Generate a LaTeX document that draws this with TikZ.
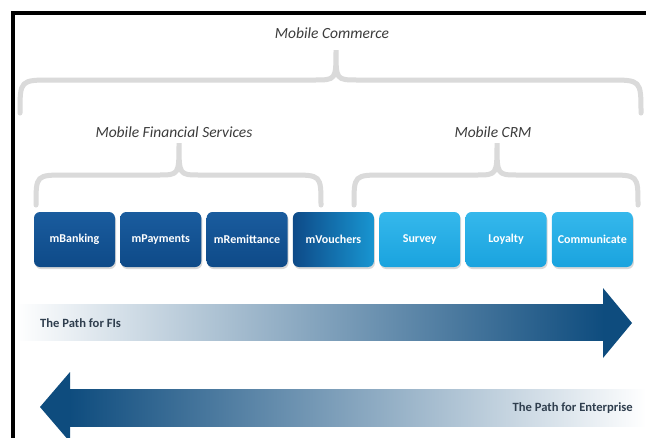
\documentclass[tikz,border=0pt]{standalone}
\usepackage{fontspec}
\setmainfont{Carlito}
\usetikzlibrary{shadows}
\definecolor{darkbox}{HTML}{0E4A88}
\definecolor{darkboxtop}{HTML}{1A5C9E}
\definecolor{lightbox}{HTML}{1AA3DE}
\definecolor{lightboxtop}{HTML}{35B8EC}
\definecolor{arrowdark}{HTML}{0E4C7E}
\definecolor{arrowmid}{HTML}{A3BBCF}
\definecolor{bracegray}{HTML}{DADADA}
\definecolor{labelgray}{HTML}{3C3C3C}
\definecolor{pathtext}{HTML}{2F3E4E}
\tikzset{
  box/.style={rounded corners=6pt, minimum width=81pt, minimum height=55pt,
    inner sep=0pt, text=white, font=\fontsize{12}{14}\selectfont\bfseries,
    drop shadow={opacity=0.3, shadow xshift=1pt, shadow yshift=-2pt}},
  darkb/.style={box, top color=darkboxtop, bottom color=darkbox},
  lightb/.style={box, top color=lightboxtop, bottom color=lightbox},
  mixb/.style={box, left color=darkbox, right color=lightbox!85!darkbox},
  bracestyle/.style={draw=bracegray, line width=5pt, line cap=round},
  grouplabel/.style={text=labelgray, font=\fontsize{15.5}{18}\selectfont\itshape, inner sep=0pt},
  pathlabel/.style={text=pathtext, font=\fontsize{12.6}{15}\selectfont\bfseries, inner sep=0pt},
  frame/.style={draw=black, line width=4pt}
}
\begin{document}
\begin{tikzpicture}[x=1pt,y=-1pt]
\useasboundingbox (0,0) rectangle (646,437);
\fill[white] (0,0) rectangle (646,437);
\begin{scope}
\clip (0,0) rectangle (646,437);
% frame
\draw[frame] (13,440) -- (13,13) -- (650,13);

% labels
\node[grouplabel] (mc) at (332,33) {Mobile Commerce};
\node[grouplabel] (mfs) at (174,132) {Mobile Financial Services};
\node[grouplabel] (mcrm) at (493,132) {Mobile CRM};

% braces
\draw[bracestyle] (20,113) .. controls (20,80) .. (52,80) -- (314,80)
  .. controls (336,80) .. (336,50) .. controls (336,80) .. (358,80)
  -- (609,80) .. controls (641,80) .. (641,113);
\draw[bracestyle] (36,205) .. controls (36,175) .. (66,175) -- (158,175)
  .. controls (179,175) .. (179,143) .. controls (179,175) .. (200,175)
  -- (291,175) .. controls (321,175) .. (321,205);
\draw[bracestyle] (354,205) .. controls (354,175) .. (384,175) -- (476,175)
  .. controls (497,175) .. (497,143) .. controls (497,175) .. (518,175)
  -- (608,175) .. controls (638,175) .. (638,205);

% boxes
\node[darkb] (b1) at (74.5,239.5) {mBanking};
\node[darkb] (b2) at (160.8,239.5) {mPayments};
\node[darkb] (b3) at (247.1,239.5) {mRemittance};
\node[mixb] (b4) at (333.4,239.5) {mVouchers};
\node[lightb] (b5) at (419.7,239.5) {Survey};
\node[lightb] (b6) at (506,239.5) {Loyalty};
\node[lightb] (b7) at (592.3,239.5) {Communicate};

% arrow 1 (right)
\shade[left color=white, middle color=arrowmid, right color=arrowdark]
  (16,304) rectangle (604,340);
\fill[arrowdark] (603,288) -- (632,323) -- (603,358) -- cycle;
\node[pathlabel, anchor=west] (p1) at (40,323) {The Path for FIs};

% arrow 2 (left)
\shade[left color=arrowdark, middle color=arrowmid, right color=white]
  (69,389) rectangle (646,426);
\fill[arrowdark] (70,372) -- (40,407) -- (70,442) -- cycle;
\node[pathlabel, anchor=east] (p2) at (633,408) {The Path for Enterprise};
\end{scope}
\end{tikzpicture}
\end{document}
